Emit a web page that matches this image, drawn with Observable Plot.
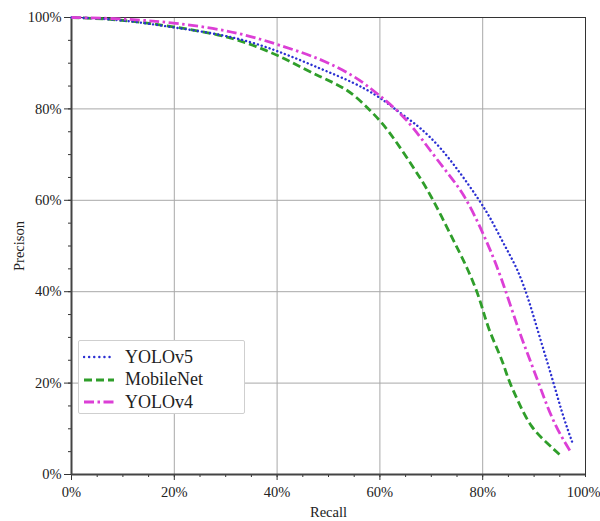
<!DOCTYPE html>
<html>
<head>
<meta charset="utf-8">
<script src="https://cdn.jsdelivr.net/npm/d3@7"></script>
<script src="https://cdn.jsdelivr.net/npm/@observablehq/plot@0.6"></script>
<style>
  html, body { margin: 0; padding: 0; background: #fff; }
  #wrap { position: relative; width: 600px; height: 521px; font-family: "Liberation Serif", "DejaVu Serif", serif; }
  #legend { position: absolute; left: 78px; top: 340px; width: 167px; height: 74px; border: 1px solid #cfcfcf; border-radius: 2px; background: #fff; box-sizing: border-box; }
  .item { position: absolute; left: 4px; height: 22px; display: flex; align-items: center; }
  .item span { margin-left: 10px; font-size: 18px; color: #222; }
</style>
</head>
<body>
<div id="wrap"></div>
<script>
// ---- data ----
const seriesNames = ["YOLOv5", "MobileNet", "YOLOv4"];
const seriesColors = ["#2b2fd2", "#2f9e2a", "#dc3fd6"];

const recallYOLOv5 = [0, 9.5, 20, 32.3, 42, 48.4, 54.9, 59.5, 62.1, 64.6, 67.9, 71.8, 75.7, 79, 81.5, 84, 86.8, 88.9, 90.7, 92.6, 94.2, 95.7, 97.5];
const precYOLOv5   = [100, 99.6, 97.8, 95.8, 91.9, 88.8, 85.8, 82.9, 80.7, 78.6, 75.9, 71.6, 65.9, 60.6, 56.2, 50.6, 45, 38.5, 31.5, 24.5, 18.4, 12.5, 6.8];

const recallMobileNet = [0, 9.5, 20, 32.3, 42, 48.4, 53.7, 58.2, 61.5, 66.5, 69.8, 74.3, 77, 79.6, 80.9, 83.9, 84.8, 86.8, 89.3, 92.6, 95.1];
const precMobileNet   = [100, 99.6, 98, 95.6, 90.8, 86.9, 84.5, 79.6, 75.7, 67.2, 61.5, 51.2, 45.3, 38.1, 32.2, 24.9, 21.2, 16.2, 10.3, 6.8, 4.2];

const recallYOLOv4 = [0, 9.5, 20, 32.3, 42, 48.4, 54.9, 58.2, 61.5, 64, 66.5, 69.8, 73.2, 76.3, 79.6, 82.1, 84, 86.8, 88.7, 90.7, 92.6, 94.6, 97.3];
const precYOLOv4   = [100, 99.8, 98.9, 96.9, 93.4, 91, 87.3, 84.5, 81.5, 79, 75.9, 70.9, 65.9, 61.5, 54, 47.5, 41.8, 32.2, 26.5, 20.6, 14.7, 9.6, 4.6];

const majorTicks = [0, 20, 40, 60, 80, 100];
const minorTicks = d3.range(0, 101, 5);

// ---- styles ----
const styles = {
  "YOLOv5":    {dash: "0.1,4", width: 2.4, cap: "round"},
  "MobileNet": {dash: "8,4", width: 2.8, cap: "butt"},
  "YOLOv4":    {dash: "10,3.5,2.5,3.5", width: 2.8, cap: "butt"}
};

const toRows = (name, r, p) => r.map((v, i) => ({series: name, recall: v, precision: p[i]}));
const rows5 = toRows("YOLOv5", recallYOLOv5, precYOLOv5);
const rowsM = toRows("MobileNet", recallMobileNet, precMobileNet);
const rows4 = toRows("YOLOv4", recallYOLOv4, precYOLOv4);

const lineFor = (rows, i) => Plot.line(rows, {
  x: "recall", y: "precision", curve: "basis",
  stroke: seriesColors[i], strokeWidth: styles[seriesNames[i]].width,
  strokeDasharray: styles[seriesNames[i]].dash, strokeLinecap: styles[seriesNames[i]].cap
});

const fmt = d => d + "%";

const chart = Plot.plot({
  width: 600, height: 521,
  marginLeft: 71, marginRight: 15, marginTop: 17, marginBottom: 47,
  style: {fontFamily: "'Liberation Serif', serif", fontSize: "14px", color: "#222", background: "#fff"},
  x: {domain: [0, 100]},
  y: {domain: [0, 100]},
  marks: [
    Plot.gridX(majorTicks.slice(1, -1), {stroke: "#a8a8a8", strokeOpacity: 1, strokeWidth: 1}),
    Plot.gridY(majorTicks.slice(1, -1), {stroke: "#a8a8a8", strokeOpacity: 1, strokeWidth: 1}),
    Plot.frame({stroke: "#333", strokeWidth: 1}),
    Plot.axisX(minorTicks, {tickSize: 3, tickFormat: () => "", label: null, stroke: "#333"}),
    Plot.axisY(minorTicks, {tickSize: 3, tickFormat: () => "", label: null, stroke: "#333"}),
    Plot.axisX(majorTicks.slice(0, -1), {tickSize: 6, tickPadding: 6, tickFormat: fmt, stroke: "#333", fontSize: 14.5,
      label: "Recall", labelAnchor: "center", labelArrow: "none", labelOffset: 42}),
    Plot.axisX(majorTicks.slice(-1), {tickSize: 6, tickPadding: 6, tickFormat: fmt, stroke: "#333", fontSize: 14.5,
      label: null, textAnchor: "end", dx: 15}),
    Plot.axisY(majorTicks, {tickSize: 7, tickPadding: 3, tickFormat: fmt, stroke: "#333", fontSize: 14.5,
      label: "Precison", labelAnchor: "center", labelArrow: "none", labelOffset: 58}),
    Plot.ruleX([0], {stroke: "#444", strokeWidth: 2}),
    Plot.ruleY([0], {stroke: "#444", strokeWidth: 2}),
    lineFor(rowsM, 1),
    lineFor(rows5, 0),
    lineFor(rows4, 2)
  ]
});

const wrap = document.getElementById("wrap");
wrap.appendChild(chart);

// legend (HTML overlay)
const legend = document.createElement("div");
legend.id = "legend";
seriesNames.forEach((name, i) => {
  const st = styles[name];
  const item = document.createElement("div");
  item.className = "item";
  item.style.top = (5 + i * 22.5) + "px";
  item.innerHTML = `<svg width="32" height="10"><line x1="1" y1="5" x2="31" y2="5" stroke="${seriesColors[i]}" stroke-width="${st.width}" stroke-dasharray="${name === 'YOLOv5' ? '0.1,5' : st.dash}" stroke-linecap="${st.cap}"/></svg><span>${name}</span>`;
  legend.appendChild(item);
});
wrap.appendChild(legend);
</script>
</body>
</html>
